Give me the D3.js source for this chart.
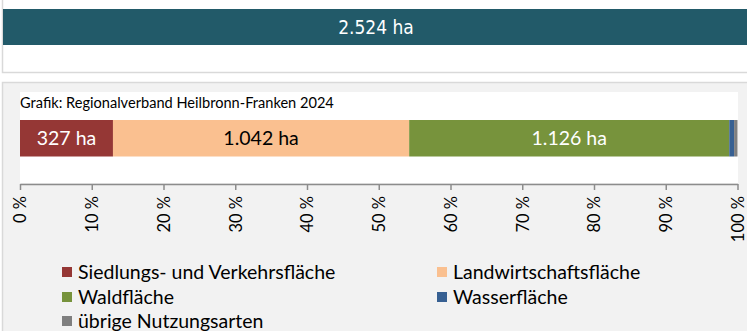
<!DOCTYPE html>
<html>
<head>
<meta charset="utf-8">
<script src="https://cdn.jsdelivr.net/npm/d3@7"></script>
<style>
  html, body { margin: 0; padding: 0; background: #ffffff; }
  svg { display: block; }
</style>
</head>
<body>
<svg id="chart" width="747" height="331"></svg>
<script>
// Flächennutzung, Regionalverband Heilbronn-Franken 2024 (in ha)
const totalArea = 2524;
const categories = ["Siedlungs- und Verkehrsfläche", "Landwirtschaftsfläche", "Waldfläche", "Wasserfläche", "übrige Nutzungsarten"];
const areaHa = [327, 1042, 1126, 17, 12];
const colors = ["#953735", "#FAC090", "#77933C", "#376092", "#7F7F7F"];
const labelColors = ["#ffffff", "#000000", "#ffffff", null, null];
const tickValues = [0, 0.1, 0.2, 0.3, 0.4, 0.5, 0.6, 0.7, 0.8, 0.9, 1.0];
const sourceText = "Grafik: Regionalverband Heilbronn-Franken 2024";

const fmt = d3.formatLocale({ decimal: ",", thousands: ".", grouping: [3], currency: ["", " €"] }).format(",d");

const svg = d3.select("#chart");
const font = "Lato, 'Open Sans', sans-serif";

// --- oberes Feld: Gesamtfläche ---
svg.append("rect").attr("x", 2.5).attr("y", -1).attr("width", 760).attr("height", 73.5)
  .attr("fill", "#ffffff").attr("stroke", "#d9d9d9").attr("stroke-width", 1.5);
const topX = d3.scaleLinear().domain([0, totalArea]).range([3, 747]);
svg.append("rect").attr("x", topX(0)).attr("y", 9).attr("width", topX(totalArea) - topX(0)).attr("height", 36)
  .attr("fill", "#225A69");
svg.append("text").attr("x", 376).attr("y", 27).attr("dy", "0.36em")
  .attr("text-anchor", "middle").attr("fill", "#ffffff")
  .style("font-family", "'Liberation Sans Narrow', 'DejaVu Sans Condensed', sans-serif")
  .style("font-size", "19px")
  .text(fmt(totalArea) + " ha");

// --- unteres Feld: Aufteilung nach Nutzungsarten ---
svg.append("rect").attr("x", 2.5).attr("y", 82.5).attr("width", 760).attr("height", 260)
  .attr("fill", "#f2f2f2").attr("stroke", "#d9d9d9").attr("stroke-width", 1.5);

const plot = { left: 20, right: 737.5, top: 92, bottom: 183 };
svg.append("rect").attr("x", plot.left).attr("y", plot.top)
  .attr("width", plot.right - plot.left + 0.5).attr("height", plot.bottom - plot.top)
  .attr("fill", "#ffffff");

svg.append("text").attr("x", plot.left).attr("y", 108)
  .style("font-family", font).style("font-size", "14.6px").attr("fill", "#000")
  .text(sourceText);

const x = d3.scaleLinear().domain([0, 1]).range([plot.left, plot.right]);
const shares = areaHa.map(v => v / totalArea);
let acc = 0;
const segs = shares.map((s, i) => { const d = { i, x0: acc, x1: acc + s }; acc += s; return d; });

const barY = 120, barH = 36.5;
svg.selectAll("rect.seg").data(segs).join("rect").attr("class", "seg")
  .attr("x", d => x(d.x0)).attr("y", barY)
  .attr("width", d => x(d.x1) - x(d.x0)).attr("height", barH)
  .attr("fill", d => colors[d.i]);

svg.selectAll("text.seglabel").data(segs.filter(d => labelColors[d.i])).join("text").attr("class", "seglabel")
  .attr("x", d => (x(d.x0) + x(d.x1)) / 2).attr("y", barY + barH / 2).attr("dy", "0.36em")
  .attr("text-anchor", "middle").attr("fill", d => labelColors[d.i])
  .style("font-family", font).style("font-size", "19.5px")
  .text(d => fmt(areaHa[d.i]) + " ha");

// Achse
const axis = d3.axisBottom(x).tickValues(tickValues).tickSize(6).tickSizeOuter(0)
  .tickFormat(d => Math.round(d * 100) + " %");
const gAxis = svg.append("g").attr("transform", `translate(0,${184})`).call(axis);
gAxis.select(".domain").attr("stroke", "#8c8c8c").attr("stroke-width", 1.5);
gAxis.selectAll(".tick line").attr("stroke", "#8c8c8c").attr("stroke-width", 1.5);
gAxis.selectAll(".tick text")
  .attr("transform", "rotate(-90)").attr("x", -12).attr("y", 0).attr("dy", "0.36em")
  .attr("text-anchor", "end").attr("fill", "#000")
  .style("font-family", font).style("font-size", "16.5px");

// Legende
const legendPos = [[62, 272], [437, 272], [62, 297], [437, 297], [62, 321]];
const lg = svg.selectAll("g.leg").data(categories).join("g").attr("class", "leg")
  .attr("transform", (d, i) => `translate(${legendPos[i][0]},${legendPos[i][1]})`);
lg.append("rect").attr("x", 0).attr("y", -5).attr("width", 10).attr("height", 10)
  .attr("fill", (d, i) => colors[i]);
lg.append("text").attr("x", 16).attr("y", 0).attr("dy", "0.36em")
  .style("font-family", font).style("font-size", "19.5px").attr("fill", "#000")
  .text(d => d);
</script>
</body>
</html>
